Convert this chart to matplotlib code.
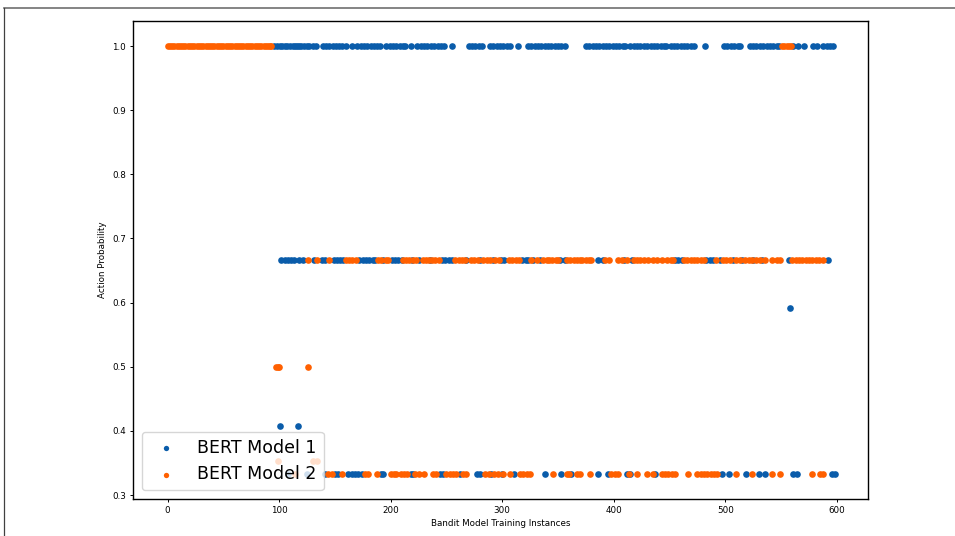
import numpy as np
import matplotlib
matplotlib.use("Agg")
import matplotlib.pyplot as plt
from matplotlib.lines import Line2D

# Action probabilities chosen by the bandit for each training instance.
HIGH, MID, LOW = 1.0, 2.0 / 3.0, 1.0 / 3.0

series_names = ["BERT Model 1", "BERT Model 2"]
series_colors = ["#0A5CAA", "#FF6000"]

# BERT Model 1
m1_x_high = [95, 98, 101, 103, 105, 107, 110, 112, 114, 116, 118, 120, 122, 125,
             127, 130, 133, 139, 142, 145, 148, 151, 154, 156, 160, 165,
             170, 173, 176, 179, 182, 185, 188, 190, 196, 199, 202, 205, 208,
             211, 213, 218, 224, 227, 230, 233, 236, 239, 242, 245, 248, 255,
             270, 273, 276, 279, 282, 289, 292, 295, 298, 301, 304, 307, 314,
             323, 326, 329, 332, 335, 338, 341, 344, 347, 350, 353, 356,
             375, 378, 381, 384, 387, 390, 393, 396, 399, 402, 405, 408, 410,
             415, 418, 421, 424, 427, 430, 433, 436, 439, 442, 445, 447,
             451, 454, 457, 460, 463, 466, 469, 472, 482,
             499, 502, 505, 508, 511, 513, 522, 525, 528, 531, 534, 537, 540,
             543, 546, 548, 561, 565, 571, 579, 582, 588, 591, 594, 597]
m1_x_mid = [102, 105, 108, 111, 113, 118, 121, 131, 138, 141, 149, 152, 155, 157,
            172, 175, 178, 181, 184, 186, 193, 201, 204, 207, 210, 219, 225, 235,
            246, 249, 252, 255, 268, 280, 292, 299, 302, 318, 321, 323, 328, 334,
            352, 356, 386, 390, 409, 416, 455, 458, 461, 483, 486, 489, 495, 507,
            515, 525, 533, 557, 592]
m1_x_low = [108, 125, 141, 150, 153, 162, 165, 168, 171, 174, 191, 193, 218, 220,
            244, 247, 262, 277, 280, 290, 300, 311, 338, 353, 362, 386, 395, 412,
            415, 437, 497, 503, 519, 530, 536, 561, 564, 596, 598]
m1_x_other = [101, 117, 558]
m1_y_other = [0.408, 0.408, 0.592]

# BERT Model 2
m2_x_high = [0, 2, 4, 6, 8, 10, 12, 14, 16, 18, 20, 22, 24, 26, 28, 30, 32, 34,
             36, 38, 40, 42, 44, 46, 48, 50, 52, 54, 56, 58, 60, 62, 64, 66, 68,
             70, 72, 74, 76, 78, 80, 82, 84, 86, 88, 90, 92, 93,
             551, 553, 555, 557, 559]
m2_x_mid = [126, 134, 145, 160, 163, 165, 169, 189, 191, 196, 198, 211, 214, 216,
            220, 223, 229, 232, 234, 237, 240, 243, 258, 261, 264, 267, 272, 275,
            278, 283, 286, 289, 294, 297, 306, 309, 312, 315, 326, 331, 337, 340,
            342, 345, 348, 350, 358, 361, 364, 367, 370, 372, 375, 378, 380, 392,
            396, 404, 407, 412, 418, 421, 424, 427, 431, 435, 439, 443, 448, 451,
            453, 463, 466, 469, 472, 475, 478, 481, 492, 498, 501, 504, 510, 513,
            518, 521, 524, 528, 531, 536, 542, 546, 549, 560, 563, 566, 569, 572,
            575, 578, 581, 584, 588]
m2_x_low = [114, 144, 147, 156, 177, 180, 188, 200, 203, 205, 209, 212, 215, 222,
            225, 230, 238, 241, 250, 253, 256, 259, 265, 268, 285, 288, 293, 296,
            301, 307, 316, 319, 322, 325, 346, 358, 360, 367, 370, 379, 398, 401,
            404, 414, 421, 430, 435, 443, 446, 449, 452, 455, 467, 475, 478, 481,
            484, 487, 490, 493, 510, 524, 542, 549, 578, 585, 588]
m2_x_other = [97, 99, 100, 126, 99, 130, 134]
m2_y_other = [0.5, 0.5, 0.5, 0.5, 0.353, 0.353, 0.353]

x_ticks = [0, 100, 200, 300, 400, 500, 600]
y_ticks = [0.3, 0.4, 0.5, 0.6, 0.7, 0.8, 0.9, 1.0]


def assemble(x_high, x_mid, x_low, x_other, y_other):
    xs = list(x_high) + list(x_mid) + list(x_low) + list(x_other)
    ys = ([HIGH] * len(x_high) + [MID] * len(x_mid) + [LOW] * len(x_low)
          + list(y_other))
    return np.array(xs, dtype=float), np.array(ys, dtype=float)


m1_x, m1_y = assemble(m1_x_high, m1_x_mid, m1_x_low, m1_x_other, m1_y_other)
m2_x, m2_y = assemble(m2_x_high, m2_x_mid, m2_x_low, m2_x_other, m2_y_other)

fig = plt.figure(figsize=(9.55, 5.36), dpi=100)
ax = fig.add_axes([0.1393, 0.0690, 0.7696, 0.8918])

ax.scatter(m1_x, m1_y, s=23, color=series_colors[0], label=series_names[0],
           linewidths=0)
ax.scatter(m2_x, m2_y, s=23, color=series_colors[1], label=series_names[1],
           linewidths=0)

ax.set_xlim(-31, 628)
ax.set_ylim(0.2938, 1.039)
ax.set_xticks(x_ticks)
ax.set_yticks(y_ticks)
ax.set_yticklabels([f"{v:.1f}" for v in y_ticks])
ax.tick_params(labelsize=6.3, length=2.4, width=0.7, pad=2.5)
for sp in ax.spines.values():
    sp.set_linewidth(1.0)

ax.set_xlabel("Bandit Model Training Instances", fontsize=6.3, labelpad=3)
ax.set_ylabel("Action Probability", fontsize=6.3, labelpad=4)

ax.legend(loc="lower left", fontsize=12.5, markerscale=0.8)

# outer frame of the figure canvas
fig.add_artist(Line2D([4 / 955, 1.0], [1 - 7.5 / 536, 1 - 7.5 / 536],
                      transform=fig.transFigure, color="#707070", lw=1.2))
fig.add_artist(Line2D([4 / 955, 4 / 955], [0.0, 1 - 7.5 / 536],
                      transform=fig.transFigure, color="#404040", lw=0.9))

fig.savefig("out.png", dpi=100)
